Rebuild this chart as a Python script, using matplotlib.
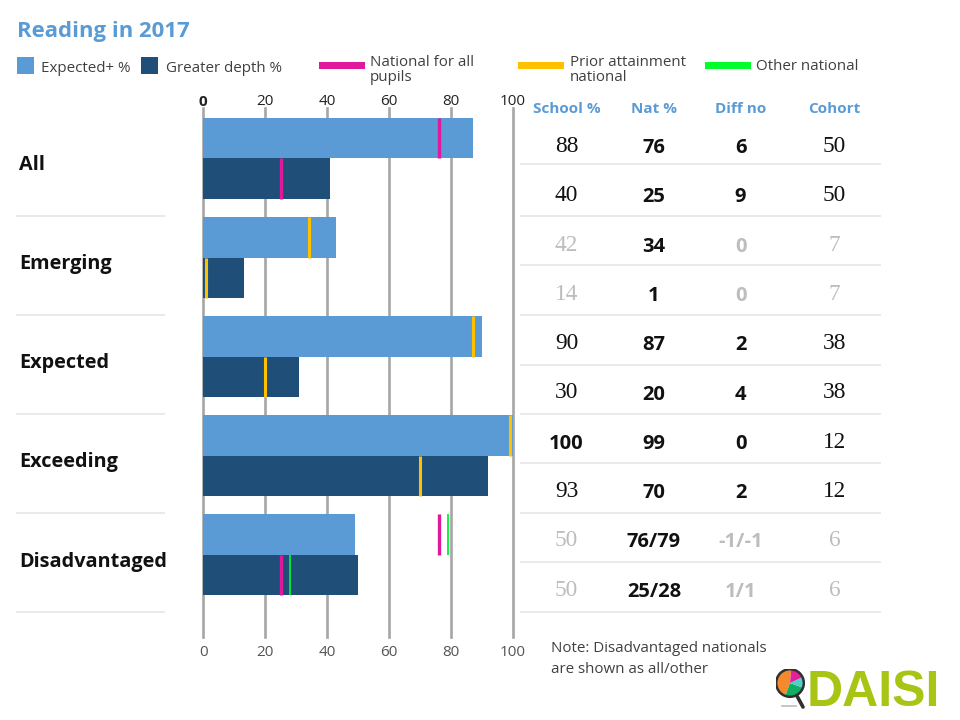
import numpy as np
import matplotlib
matplotlib.use('Agg')
import matplotlib.pyplot as plt
from matplotlib.patches import Rectangle, Circle

# Data
groups = ['All', 'Emerging', 'Expected', 'Exceeding', 'Disadvantaged']
expected = [87, 43, 90, 100, 49]
greater = [41, 13, 31, 92, 50]

# national marks: (value on upper bar, value on lower bar)
nat_all = [(76, 25), None, None, None, (76, 25)]
nat_prior = [None, (34, 1), (87, 20), (99, 70), None]
nat_other = [None, None, None, None, (79, 28)]

ticks = [0, 20, 40, 60, 80, 100]

headers = ['School %', 'Nat %', 'Diff no', 'Cohort']
school = ['88', '40', '42', '14', '90', '30', '100', '93', '50', '50']
nat = ['76', '25', '34', '1', '87', '20', '99', '70', '76/79', '25/28']
diff = ['6', '9', '0', '0', '2', '4', '0', '2', '-1/-1', '1/1']
cohort = ['50', '50', '7', '7', '38', '38', '12', '12', '6', '6']
greyed = [False, False, True, True, False, False, False, False, True, True]

logo_shares = [165, 90, 45, 60]
logo_colours = ['#f58a2c', '#0fae63', '#4fd0c8', '#e0219b']

# Colours
LIGHT = '#5b9bd5'
DARK = '#1f4e79'
MAGENTA = '#e0189b'
YELLOW = '#ffc000'
GREEN = '#00f030'
GRID = '#a6a6a6'
RULE = '#e8e8e8'
GREY_TXT = '#bdbdbd'
SANS = 'Open Sans'
SERIF = 'Liberation Serif'
LEG = 10.9

W, H = 960, 720
fig = plt.figure(figsize=(9.6, 7.2), dpi=100, facecolor='white')


def px_box(x0, y0, x1, y1):
    # pixel box (y down) to figure fractions
    return [x0 / W, 1 - y1 / H, (x1 - x0) / W, (y1 - y0) / H]


# Layer with pixel coordinates for the text and the rules
page = fig.add_axes([0, 0, 1, 1])
page.set_xlim(0, W)
page.set_ylim(H, 0)
page.axis('off')

# Bars
ax = fig.add_axes(px_box(203.3, 108, 512.8, 637))
ax.patch.set_alpha(0)
ax.set_xlim(0, 100)
ax.set_ylim(4.833, -0.51)
bar_h = 0.41
ypos = np.arange(len(groups))
ax.barh(ypos - bar_h / 2, expected, height=bar_h, color=LIGHT, zorder=3)
ax.barh(ypos + bar_h / 2, greater, height=bar_h, color=DARK, zorder=3)

# National marks
for marks, col, lw in [(nat_all, MAGENTA, 2.4), (nat_prior, YELLOW, 2.2), (nat_other, GREEN, 1.3)]:
    for y, pair in zip(ypos, marks):
        if pair is None:
            continue
        ax.vlines(pair[0], y - bar_h, y, color=col, lw=lw, zorder=4)
        ax.vlines(pair[1], y, y + bar_h, color=col, lw=lw, zorder=4)

ax.set_xticks(ticks)
ax.set_yticks([])
ax.grid(axis='x', color=GRID, lw=1.9, zorder=1)
for line in ax.get_xgridlines():
    line.set_clip_on(False)
ax.tick_params(axis='x', length=0, pad=6, labelsize=11, labelcolor='#555555')
for lab in ax.get_xticklabels():
    lab.set_fontfamily(SANS)
for s in ax.spines.values():
    s.set_visible(False)

# Same scale again above the bars, closer to them
top = ax.secondary_xaxis('top')
top.set_xticks(ticks)
top.tick_params(axis='x', length=0, pad=-1, labelsize=11, labelcolor='#222222')
for lab in top.get_xticklabels():
    lab.set_fontfamily(SANS)
top.get_xticklabels()[0].set_fontweight('bold')
top.spines['top'].set_visible(False)

# Title and legend
page.text(17, 37, 'Reading in 2017', color=LIGHT, family=SANS, fontweight='bold', fontsize=15.9)
page.add_patch(Rectangle((17, 57), 17, 17, color=LIGHT, lw=0))
page.text(41, 71.5, 'Expected+ %', color='#404040', family=SANS, fontsize=LEG)
page.add_patch(Rectangle((141, 57), 17, 17, color=DARK, lw=0))
page.text(166, 71.5, 'Greater depth %', color='#404040', family=SANS, fontsize=LEG)
page.add_patch(Rectangle((319, 62), 46, 6.5, color=MAGENTA, lw=0))
page.text(370, 66, 'National for all', color='#404040', family=SANS, fontsize=LEG)
page.text(370, 81, 'pupils', color='#404040', family=SANS, fontsize=LEG)
page.add_patch(Rectangle((518, 62), 46, 6.5, color=YELLOW, lw=0))
page.text(570, 66, 'Prior attainment', color='#404040', family=SANS, fontsize=LEG)
page.text(570, 81, 'national', color='#404040', family=SANS, fontsize=LEG)
page.add_patch(Rectangle((705, 62), 46, 6.5, color='#00ff2a', lw=0))
page.text(756, 70, 'Other national', color='#404040', family=SANS, fontsize=LEG)

# Group labels and their rules
label_base = [170, 269, 368, 467, 567]
for name, yb in zip(groups, label_base):
    page.text(19, yb, name, color='#111111', family=SANS, fontweight='bold', fontsize=14.3)
for yr in [215.5, 315, 414, 513, 612]:
    page.plot([16, 165], [yr, yr], color=RULE, lw=1.3, solid_capstyle='butt')

# Table
col_x = [566.5, 654, 740.5, 834.5]
for xc, head in zip(col_x, headers):
    page.text(xc, 113, head, color=LIGHT, family=SANS, fontweight='bold', fontsize=11, ha='center')

for i in range(len(school)):
    yb = 152 + 49.3 * i
    col = GREY_TXT if greyed[i] else '#111111'
    if school[i] == '100':
        page.text(col_x[0], yb + 1, school[i], color='#111111', family=SANS, fontweight='bold', fontsize=14.5, ha='center')
    else:
        page.text(col_x[0], yb, school[i], color=col, family=SERIF, fontsize=16.8, ha='center')
    page.text(col_x[1], yb + 1, nat[i], color='#111111', family=SANS, fontweight='bold', fontsize=14.5, ha='center')
    page.text(col_x[2], yb + 1, diff[i], color=col, family=SANS, fontweight='bold', fontsize=14.5, ha='center')
    page.text(col_x[3], yb, cohort[i], color=col, family=SERIF, fontsize=16.8, ha='center')

for yr in [163.5, 215.5, 265, 315, 364.5, 414, 463, 513, 562, 611.5]:
    page.plot([520, 881], [yr, yr], color=RULE, lw=1.3, solid_capstyle='butt')

# Note
page.text(551, 652, 'Note: Disadvantaged nationals', color='#404040', family=SANS, fontsize=LEG)
page.text(551, 673, 'are shown as all/other', color='#404040', family=SANS, fontsize=LEG)

# Logo
page.text(807, 706, 'DAISI', color='#a8c414', family='Liberation Sans', fontweight='bold', fontsize=36)
page.plot([797, 803], [696, 707], color='#303030', lw=2.6, solid_capstyle='round')
page.plot([782, 796], [705.5, 705.5], color='#bbbbbb', lw=1.2)
logo = fig.add_axes(px_box(775.5, 668.5, 804.5, 697.5))
logo.pie(logo_shares, colors=logo_colours, startangle=85, counterclock=True, radius=1.0)
logo.set_xlim(-1.05, 1.05)
logo.set_ylim(-1.05, 1.05)
logo.add_patch(Circle((0, 0), 1.0, fill=False, ec='#303030', lw=1.8))

fig.savefig('out.png', dpi=100)
